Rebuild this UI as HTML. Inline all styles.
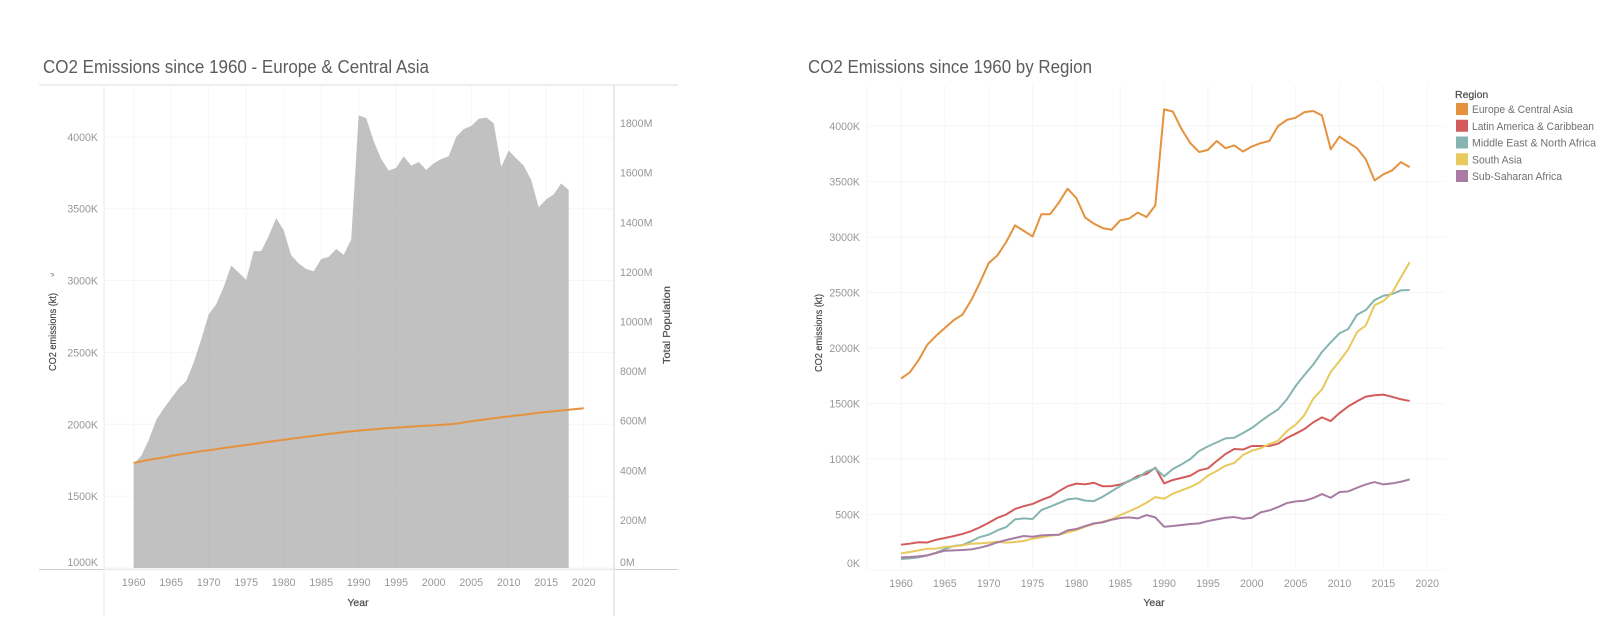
<!DOCTYPE html>
<html lang="en">
<head>
<meta charset="utf-8">
<title>CO2 Emissions since 1960</title>
<style>
html,body{margin:0;padding:0;background:#fff;}
body{width:1614px;height:640px;overflow:hidden;}
svg{display:block;font-family:"Liberation Sans",sans-serif;filter:blur(0.35px);}
.tick{font-size:10.6px;fill:#979797;}
.axis-title{font-size:10.5px;fill:#4a4a4a;stroke:#4a4a4a;stroke-width:0.2px;}
.title{font-size:18px;fill:#5c5c5c;}
.legend-text{font-size:11px;fill:#707070;}
</style>
</head>
<body>
<svg id="root" width="1614" height="640" viewBox="0 0 1614 640" xmlns="http://www.w3.org/2000/svg">
  <rect x="0" y="0" width="1614" height="640" fill="#ffffff"/>

  <g id="left-chart">
    <text class="title" x="43" y="73" textLength="386" lengthAdjust="spacingAndGlyphs">CO2 Emissions since 1960 - Europe &amp; Central Asia</text>
    <g id="left-grid"></g>
    <g id="left-marks"></g>
    <line x1="39" y1="85" x2="678" y2="85" stroke="#dcdcdc" stroke-width="1"/>
    <line x1="39" y1="569.5" x2="104" y2="569.5" stroke="#cfcfcf" stroke-width="1"/>
    <line x1="104" y1="569.5" x2="614" y2="569.5" stroke="#ececec" stroke-width="1.5"/>
    <line x1="614" y1="569.5" x2="678" y2="569.5" stroke="#cfcfcf" stroke-width="1"/>
    <line x1="104" y1="85" x2="104" y2="616" stroke="#f0f0f0" stroke-width="1.5"/>
    <line x1="614" y1="85" x2="614" y2="616" stroke="#e2e2e2" stroke-width="1.5"/>
    <g id="left-labels"></g>
    <text class="axis-title" text-anchor="middle" transform="translate(56,332) rotate(-90)" textLength="78" lengthAdjust="spacingAndGlyphs">CO2 emissions (kt)</text>
    <path d="M50.5 274 q2 -1 3 0.5 q0 1.5 -2 1.5" fill="none" stroke="#777" stroke-width="0.8"/>
    <text class="axis-title" text-anchor="middle" transform="translate(670,325) rotate(-90)" textLength="78" lengthAdjust="spacingAndGlyphs">Total Population</text>
    <text class="axis-title" text-anchor="middle" x="358" y="606">Year</text>
  </g>

  <g id="right-chart">
    <text class="title" x="808" y="73" textLength="284" lengthAdjust="spacingAndGlyphs">CO2 Emissions since 1960 by Region</text>
    <g id="right-grid"></g>
    <g id="right-marks"></g>
    <g id="right-labels"></g>
    <text class="axis-title" text-anchor="middle" transform="translate(822,333) rotate(-90)" textLength="78" lengthAdjust="spacingAndGlyphs">CO2 emissions (kt)</text>
    <text class="axis-title" text-anchor="middle" x="1154" y="606">Year</text>
  </g>

  <g id="legend">
    <text class="axis-title" x="1455" y="98">Region</text>
  </g>
</svg>

<script>
const years = [];
for (let y = 1960; y <= 2018; y++) years.push(y);
const popYears = [];
for (let y = 1960; y <= 2020; y++) popYears.push(y);

const xTickLabels = [1960, 1965, 1970, 1975, 1980, 1985, 1990, 1995, 2000, 2005, 2010, 2015, 2020];
const leftEmissionTicks = [1000, 1500, 2000, 2500, 3000, 3500, 4000];
const rightEmissionTicks = [0, 500, 1000, 1500, 2000, 2500, 3000, 3500, 4000];
const populationTicks = [0, 200, 400, 600, 800, 1000, 1200, 1400, 1600, 1800];

const regionNames = ["Europe & Central Asia", "Latin America & Caribbean", "Middle East & North Africa", "South Asia", "Sub-Saharan Africa"];
const regionColors = ["#e5923f", "#d45b5b", "#85b5b0", "#e8c95d", "#a87ca2"];

const europe = [1725,1780,1890,2030,2110,2180,2250,2300,2430,2590,2765,2835,2955,3105,3055,3005,3205,3205,3310,3435,3350,3175,3120,3080,3065,3150,3165,3220,3180,3285,4150,4130,3970,3845,3765,3785,3865,3800,3825,3770,3815,3845,3865,4000,4055,4075,4125,4135,4095,3790,3905,3850,3800,3700,3510,3565,3600,3675,3630];
const latinAmerica = [228,237,250,248,272,288,305,325,350,385,426,470,500,550,575,595,630,660,710,755,778,772,786,754,756,770,800,847,865,922,780,811,830,850,897,916,982,1045,1090,1085,1117,1117,1117,1138,1189,1228,1270,1330,1375,1342,1414,1474,1520,1562,1574,1580,1560,1538,1523];
const middleEast = [99,105,114,132,156,189,216,225,258,297,318,357,387,456,465,459,540,570,603,636,645,625,621,660,708,756,805,832,886,916,844,910,952,1000,1072,1114,1150,1186,1192,1234,1279,1339,1396,1447,1537,1658,1757,1850,1964,2051,2132,2171,2300,2342,2432,2471,2486,2519,2522];
const southAsia = [150,162,177,192,192,207,213,222,237,240,246,255,246,252,261,282,294,309,318,339,360,390,414,435,456,495,528,564,606,657,642,688,718,748,787,850,892,940,964,1036,1075,1096,1135,1165,1252,1309,1396,1543,1627,1784,1883,1988,2144,2204,2387,2423,2498,2636,2772];
const subSaharan = [114,117,123,132,153,174,177,180,186,201,222,249,270,288,306,300,312,315,318,357,369,396,420,429,453,468,474,465,495,474,390,396,405,414,420,441,456,471,477,462,471,519,537,567,603,618,624,648,684,651,702,708,741,771,792,771,780,795,816];
const population = [430,436,442,447,452,458,463,468,472,477,481,485,490,494,498,502,506,511,515,519,523,527,531,535,539,543,547,550,554,557,560,563,565,568,570,572,574,576,578,580,581,583,585,588,593,598,602,606,610,614,617,621,624,628,632,635,638,641,644,647,650];

const regionSeries = [europe, latinAmerica, middleEast, southAsia, subSaharan];

/* axis functions */
const xLeft = v => 133.7 + (v - 1960) * 7.5;
const yLeft = v => 568 - (v - 1000) * 0.14372;
const yPop = v => 569.5 - v * 0.248;
const xRight = v => 901 + (v - 1960) * 8.77;
const yRight = v => 570 - v * 0.111;

const NS = "http://www.w3.org/2000/svg";
function make(parent, tag, attrs, text) {
  const n = document.createElementNS(NS, tag);
  for (const k in attrs) n.setAttribute(k, attrs[k]);
  if (text !== undefined) n.textContent = text;
  parent.appendChild(n);
  return n;
}
function pts(xs, ys, fx, fy) {
  return xs.map((x, i) => fx(x).toFixed(2) + "," + fy(ys[i]).toFixed(2));
}

const leftGrid = document.getElementById("left-grid");
const leftMarks = document.getElementById("left-marks");
const leftLabels = document.getElementById("left-labels");
const rightGrid = document.getElementById("right-grid");
const rightMarks = document.getElementById("right-marks");
const rightLabels = document.getElementById("right-labels");
const legend = document.getElementById("legend");
const GRID = "#f6f6f6";

/* left chart: grid and labels */
xTickLabels.forEach(v => {
  const g = make(leftGrid, "line", {x1: xLeft(v), x2: xLeft(v), y1: 85, y2: 569, stroke: GRID, "stroke-width": 1});
  
  
  const t = make(leftLabels, "text", {class: "tick", x: xLeft(v), y: 586, "text-anchor": "middle"}, String(v));
  
  
});
leftEmissionTicks.forEach(v => {
  const g = make(leftGrid, "line", {x1: 104, x2: 614, y1: yLeft(v), y2: yLeft(v), stroke: GRID, "stroke-width": 1});
  
  
  const t = make(leftLabels, "text", {class: "tick", x: 98, y: Math.min(yLeft(v), 562) + 4, "text-anchor": "end"}, v + "K");
  
  
});
populationTicks.forEach(v => {
  const t = make(leftLabels, "text", {class: "tick", x: 620, y: Math.min(yPop(v), 562) + 4}, v + "M");
  
  
});

/* left chart: area and population line */
const baseY = yLeft(1000);
const areaPoints = [xLeft(years[0]).toFixed(2) + "," + baseY]
  .concat(pts(years, europe, xLeft, yLeft))
  .concat([xLeft(years[years.length - 1]).toFixed(2) + "," + baseY]);
const area = make(leftMarks, "polygon", {points: areaPoints.join(" "), fill: "#a3a3a3", "fill-opacity": 0.68});


const popLine = make(leftMarks, "polyline", {points: pts(popYears, population, xLeft, yPop).join(" "), fill: "none", stroke: "#e5923f", "stroke-width": 2, "stroke-linejoin": "round"});



/* right chart: grid and labels */
const frameLine = make(rightGrid, "line", {x1: 867, x2: 867, y1: 85, y2: 570, stroke: GRID, "stroke-width": 1});


xTickLabels.forEach(v => {
  const g = make(rightGrid, "line", {x1: xRight(v), x2: xRight(v), y1: 85, y2: 570, stroke: GRID, "stroke-width": 1});
  
  
  const t = make(rightLabels, "text", {class: "tick", x: xRight(v), y: 587, "text-anchor": "middle"}, String(v));
  
  
});
rightEmissionTicks.forEach(v => {
  const g = make(rightGrid, "line", {x1: 867, x2: 1445, y1: yRight(v), y2: yRight(v), stroke: GRID, "stroke-width": 1});
  
  
  const t = make(rightLabels, "text", {class: "tick", x: 860, y: Math.min(yRight(v), 563) + 4, "text-anchor": "end"}, v + "K");
  
  
});

/* right chart: one line per region */
regionSeries.forEach((series, i) => {
  const line = make(rightMarks, "polyline", {points: pts(years, series, xRight, yRight).join(" "), fill: "none", stroke: regionColors[i], "stroke-width": 2, "stroke-linejoin": "round"});
  
  
});

/* legend */
const legendTextWidths = [101, 122, 124, 50, 90];
regionNames.forEach((name, i) => {
  const rowY = 109 + i * 16.75;
  const sw = make(legend, "rect", {x: 1456, y: rowY - 6, width: 12, height: 12, fill: regionColors[i]});
  
  
  const t = make(legend, "text", {class: "legend-text", x: 1472, y: rowY + 4, textLength: legendTextWidths[i], lengthAdjust: "spacingAndGlyphs"}, name);
  
  
});
</script>
</body>
</html>
